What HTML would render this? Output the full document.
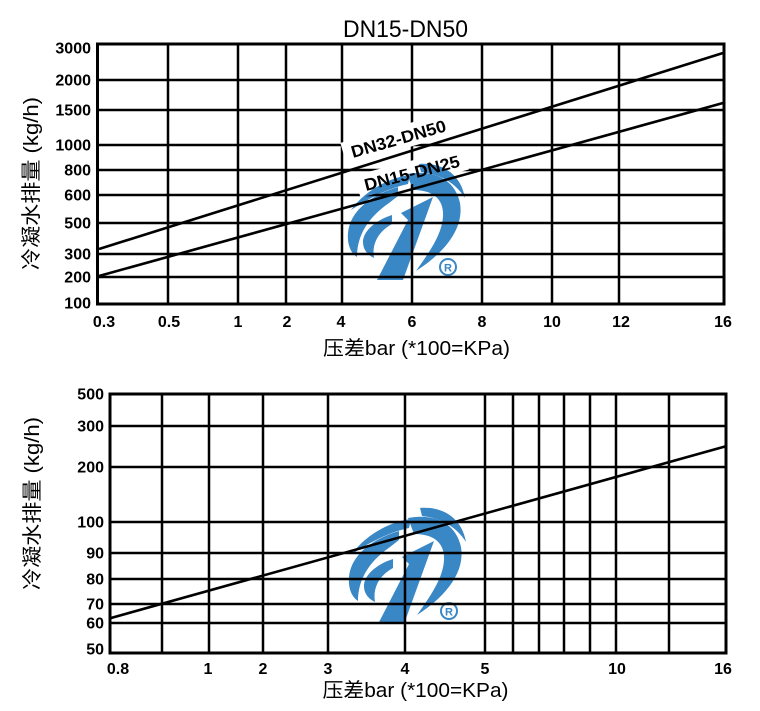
<!DOCTYPE html>
<html><head><meta charset="utf-8">
<style>
html,body{margin:0;padding:0;background:#fff}
svg{display:block}
.t{font-family:"Liberation Sans","Noto Sans CJK SC",sans-serif;fill:#000}
.n{font-family:"Liberation Sans",sans-serif;font-weight:bold;font-size:16px;fill:#000}
.g{stroke:#000;stroke-width:2.5;fill:none}
.lg{mix-blend-mode:multiply}
</style></head><body>
<svg width="760" height="711" viewBox="0 0 760 711" xmlns="http://www.w3.org/2000/svg">
<rect width="760" height="711" fill="#fff"/>

<!-- Title -->
<text class="t" x="405.5" y="37" text-anchor="middle" font-size="24" textLength="125" lengthAdjust="spacingAndGlyphs">DN15-DN50</text>

<!-- ================= TOP CHART ================= -->
<g class="g">
  <line x1="168" y1="44" x2="168" y2="304"/>
  <line x1="238" y1="44" x2="238" y2="304"/>
  <line x1="286" y1="44" x2="286" y2="304"/>
  <line x1="342" y1="44" x2="342" y2="304"/>
  <line x1="412" y1="44" x2="412" y2="304"/>
  <line x1="482" y1="44" x2="482" y2="304"/>
  <line x1="552" y1="44" x2="552" y2="304"/>
  <line x1="619" y1="44" x2="619" y2="304"/>
  <line x1="98" y1="80" x2="724" y2="80"/>
  <line x1="98" y1="110" x2="724" y2="110"/>
  <line x1="98" y1="145" x2="724" y2="145"/>
  <line x1="98" y1="170" x2="724" y2="170"/>
  <line x1="98" y1="195" x2="724" y2="195"/>
  <line x1="98" y1="223" x2="724" y2="223"/>
  <line x1="98" y1="254" x2="724" y2="254"/>
  <line x1="98" y1="277" x2="724" y2="277"/>
  <rect x="97.5" y="44" width="626.5" height="260" stroke-width="3"/>
</g>

<!-- series labels with white backgrounds -->
<g transform="translate(353,158) rotate(-16)">
  <rect x="-8" y="-18" width="114" height="23" fill="#fff"/>
  <text class="t" x="0" y="0" font-size="17" font-weight="bold" textLength="98" lengthAdjust="spacingAndGlyphs">DN32-DN50</text>
</g>
<g transform="translate(366,191) rotate(-14.5)">
  <rect x="-7" y="-18" width="112" height="23" fill="#fff"/>
  <text class="t" x="0" y="0" font-size="17" font-weight="bold" textLength="98" lengthAdjust="spacingAndGlyphs">DN15-DN25</text>
</g>

<!-- series lines -->
<line x1="99" y1="249" x2="723" y2="53" stroke="#000" stroke-width="2.6"/>
<line x1="99" y1="276" x2="723" y2="103" stroke="#000" stroke-width="2.6"/>

<!-- top y ticks -->
<g text-anchor="end">
  <text class="n" x="91" y="53.5">3000</text>
  <text class="n" x="91" y="85.5">2000</text>
  <text class="n" x="91" y="115.5">1500</text>
  <text class="n" x="91" y="150.5">1000</text>
  <text class="n" x="91" y="175.5">800</text>
  <text class="n" x="91" y="200.5">600</text>
  <text class="n" x="91" y="228.5">500</text>
  <text class="n" x="91" y="259.5">300</text>
  <text class="n" x="91" y="282.5">200</text>
  <text class="n" x="91" y="308.5">100</text>
</g>
<!-- top x ticks -->
<g text-anchor="middle">
  <text class="n" x="104" y="327">0.3</text>
  <text class="n" x="169" y="327">0.5</text>
  <text class="n" x="238" y="327">1</text>
  <text class="n" x="287" y="327">2</text>
  <text class="n" x="341" y="327">4</text>
  <text class="n" x="412" y="327">6</text>
  <text class="n" x="482" y="327">8</text>
  <text class="n" x="552" y="327">10</text>
  <text class="n" x="621" y="327">12</text>
  <text class="n" x="723" y="327">16</text>
</g>

<text class="t" x="416.5" y="355" text-anchor="middle" font-size="20" textLength="187" lengthAdjust="spacingAndGlyphs">压差bar (*100=KPa)</text>
<text class="t" transform="translate(38,183.5) rotate(-90)" text-anchor="middle" font-size="20" textLength="173" lengthAdjust="spacingAndGlyphs">冷凝水排量 (kg/h)</text>

<!-- top logo -->
<g class="lg" transform="translate(347,161)" fill="#3a87c6">
  <path d="M72,3 C96,1 114,14 118,37 C108,21 92,13 74,11 Z"/>
  <path d="M60,13 C86,8 108,18 113,42 C117,66 100,90 69,110 C84,89 97,70 96,51 C95,37 85,29 66,29 Z"/>
  <path d="M54,52 L86,36 L56,119 L30,119 L61,59 Z"/>
  <path d="M63,14 C45,16 19,28 4,49 C22,37 42,27 61,23 Z"/>
  <path d="M51,26 C24,34 3,50 1,72 C0,84 4,92 10,96 C10,80 16,60 42,42 L51,35 Z"/>
  <path d="M45,54 C29,59 16,70 16,81 C16,89 21,94 27,97 C25,85 29,72 45,63 Z"/>
  <circle cx="101" cy="106" r="8" fill="none" stroke="#3a87c6" stroke-width="2"/>
  <text x="101" y="110.5" text-anchor="middle" font-family="Liberation Sans,sans-serif" font-weight="bold" font-size="11">R</text>
</g>

<!-- ================= BOTTOM CHART ================= -->
<g class="g">
  <line x1="162" y1="394" x2="162" y2="653"/>
  <line x1="209" y1="394" x2="209" y2="653"/>
  <line x1="263" y1="394" x2="263" y2="653"/>
  <line x1="328" y1="394" x2="328" y2="653"/>
  <line x1="405" y1="394" x2="405" y2="653"/>
  <line x1="485" y1="394" x2="485" y2="653"/>
  <line x1="513" y1="394" x2="513" y2="653"/>
  <line x1="539" y1="394" x2="539" y2="653"/>
  <line x1="564" y1="394" x2="564" y2="653"/>
  <line x1="590" y1="394" x2="590" y2="653"/>
  <line x1="616" y1="394" x2="616" y2="653"/>
  <line x1="669" y1="394" x2="669" y2="653"/>
  <line x1="110" y1="426" x2="726" y2="426"/>
  <line x1="110" y1="467" x2="726" y2="467"/>
  <line x1="110" y1="522" x2="726" y2="522"/>
  <line x1="110" y1="553" x2="726" y2="553"/>
  <line x1="110" y1="579" x2="726" y2="579"/>
  <line x1="110" y1="604" x2="726" y2="604"/>
  <line x1="110" y1="623" x2="726" y2="623"/>
  <rect x="110" y="394" width="616" height="259" stroke-width="3"/>
</g>
<line x1="111" y1="618" x2="725" y2="446.5" stroke="#000" stroke-width="2.6"/>

<g text-anchor="end">
  <text class="n" x="104" y="399.5">500</text>
  <text class="n" x="104" y="431.5">300</text>
  <text class="n" x="104" y="472.5">200</text>
  <text class="n" x="104" y="527.5">100</text>
  <text class="n" x="104" y="558.5">90</text>
  <text class="n" x="104" y="584.5">80</text>
  <text class="n" x="104" y="609.5">70</text>
  <text class="n" x="104" y="628.5">60</text>
  <text class="n" x="104" y="654.5">50</text>
</g>
<g text-anchor="middle">
  <text class="n" x="118" y="674">0.8</text>
  <text class="n" x="208" y="674">1</text>
  <text class="n" x="263" y="674">2</text>
  <text class="n" x="328" y="674">3</text>
  <text class="n" x="405" y="674">4</text>
  <text class="n" x="485" y="674">5</text>
  <text class="n" x="617" y="674">10</text>
  <text class="n" x="723" y="674">16</text>
</g>

<text class="t" x="415.5" y="697" text-anchor="middle" font-size="20" textLength="186" lengthAdjust="spacingAndGlyphs">压差bar (*100=KPa)</text>
<text class="t" transform="translate(39,503.5) rotate(-90)" text-anchor="middle" font-size="20" textLength="173" lengthAdjust="spacingAndGlyphs">冷凝水排量 (kg/h)</text>

<!-- bottom logo -->
<g class="lg" transform="translate(348,505)" fill="#3a87c6">
  <path d="M72,3 C96,1 114,14 118,37 C108,21 92,13 74,11 Z"/>
  <path d="M60,13 C86,8 108,18 113,42 C117,66 100,90 69,110 C84,89 97,70 96,51 C95,37 85,29 66,29 Z"/>
  <path d="M54,52 L86,36 L56,119 L30,119 L61,59 Z"/>
  <path d="M63,14 C45,16 19,28 4,49 C22,37 42,27 61,23 Z"/>
  <path d="M51,26 C24,34 3,50 1,72 C0,84 4,92 10,96 C10,80 16,60 42,42 L51,35 Z"/>
  <path d="M45,54 C29,59 16,70 16,81 C16,89 21,94 27,97 C25,85 29,72 45,63 Z"/>
  <circle cx="101" cy="106" r="8" fill="none" stroke="#3a87c6" stroke-width="2"/>
  <text x="101" y="110.5" text-anchor="middle" font-family="Liberation Sans,sans-serif" font-weight="bold" font-size="11">R</text>
</g>
</svg>
</body></html>
